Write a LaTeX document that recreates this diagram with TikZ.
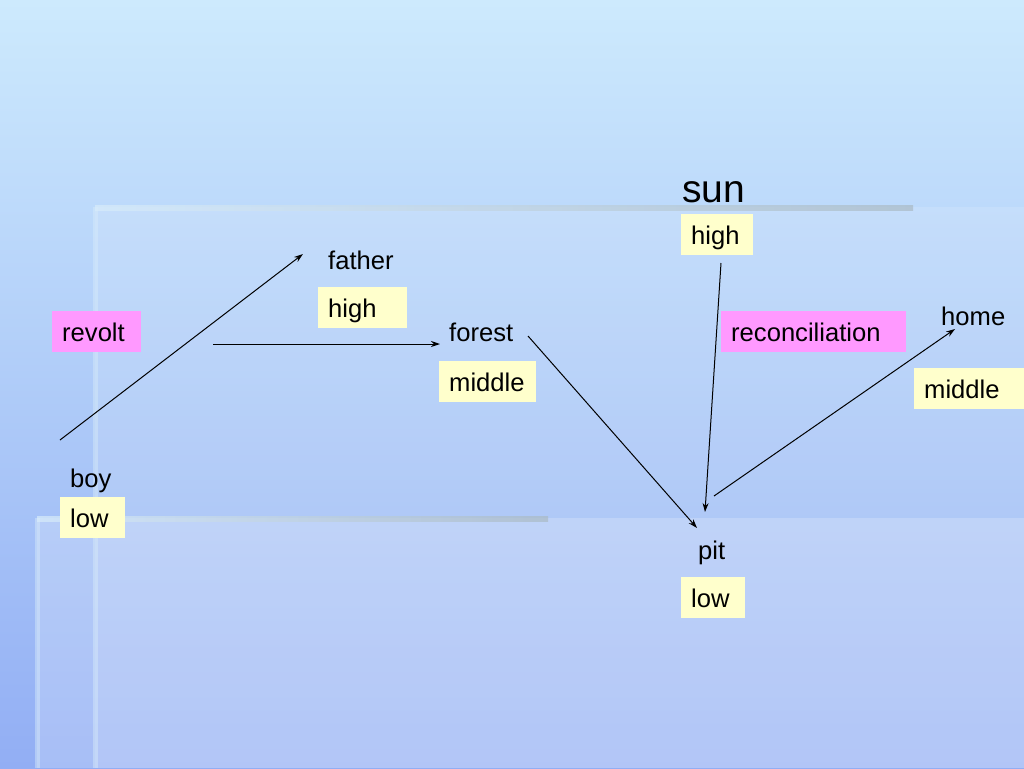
\documentclass[tikz,border=0pt]{standalone}
\usepackage{fontspec}
\setmainfont{Liberation Sans}
\usetikzlibrary{arrows.meta}
\definecolor{sky-top}{HTML}{CDEAFD}
\definecolor{sky-mid}{HTML}{B4D0FA}
\definecolor{sky-deep}{HTML}{92AEF4}
\definecolor{level-yellow}{HTML}{FFFFCC}
\definecolor{shift-pink}{HTML}{FF99FF}
\definecolor{bar-gray}{HTML}{AABAC4}
\definecolor{bar-light}{HTML}{D8ECFA}
\tikzset{
    level-box/.style = {fill=level-yellow, anchor=north west, align=left, inner xsep=10pt, inner ysep=9pt, text height=21pt, text depth=2pt, font=\fontsize{25.6}{30}\selectfont},
    shift-box/.style = {level-box, fill=shift-pink},
    place-label/.style = {anchor=base west, inner sep=0pt, font=\fontsize{25.6}{30}\selectfont},
    link-arrow/.style = {-{Stealth[length=9pt,width=6pt]}, line width=1pt},
}

\begin{document}
\begin{tikzpicture}[x=1pt, y=-1pt]
\useasboundingbox (0,0) rectangle (1024,768);
% background and panels
\shade[top color=sky-top, middle color=sky-mid, bottom color=sky-deep] (0,0) rectangle (1024,768);
\fill[white, opacity=0.12] (95,207) rectangle (1024,768);
\fill[white, opacity=0.2] (37,518) rectangle (1024,768);
\shade[left color=bar-light, right color=bar-gray, opacity=0.7] (95,205) rectangle (913,210);
\fill[bar-light, opacity=0.45] (93,207) rectangle (98,768);
\shade[left color=bar-light, right color=bar-gray, opacity=0.7] (37,516) rectangle (548,521);
\fill[bar-light, opacity=0.45] (35,518) rectangle (40,768);

% places
\node[place-label] (father) at (328,269) {father};
\node[place-label] (forest) at (449,341) {forest};
\node[place-label] (boy) at (70,487) {boy};
\node[place-label, font=\fontsize{39}{44}\selectfont] (sun) at (682,202) {sun};
\node[place-label] (home) at (941,325) {home};
\node[place-label] (pit) at (698,559) {pit};

% levels
\node[level-box, text width=69pt] (father-level) at (318,287) {high};
\node[level-box, text width=77pt] (forest-level) at (439,361) {middle};
\node[level-box, text width=45pt] (boy-level) at (60,497) {low};
\node[level-box, text width=52pt] (sun-level) at (681,214) {high};
\node[level-box, text width=95pt] (home-level) at (914,368) {middle};
\node[level-box, text width=44pt] (pit-level) at (681,577) {low};

% turns
\node[shift-box, text width=69pt] (revolt) at (52,311) {revolt};
\node[shift-box, text width=165pt] (reconciliation) at (721,311) {reconciliation};

% arrows
\coordinate (boy-out) at (60,440);
\coordinate (father-in) at (303,254);
\coordinate (father-out) at (213,344);
\coordinate (forest-in) at (440,344);
\coordinate (forest-out) at (528,336);
\coordinate (pit-in) at (697,528);
\coordinate (sun-out) at (721,263);
\coordinate (pit-top) at (705,512);
\coordinate (pit-out) at (714,496);
\coordinate (home-in) at (955,329);
\draw[link-arrow] (boy-out) -- (father-in);
\draw[link-arrow] (father-out) -- (forest-in);
\draw[link-arrow] (forest-out) -- (pit-in);
\draw[link-arrow] (sun-out) -- (pit-top);
\draw[link-arrow] (pit-out) -- (home-in);
\end{tikzpicture}
\end{document}
